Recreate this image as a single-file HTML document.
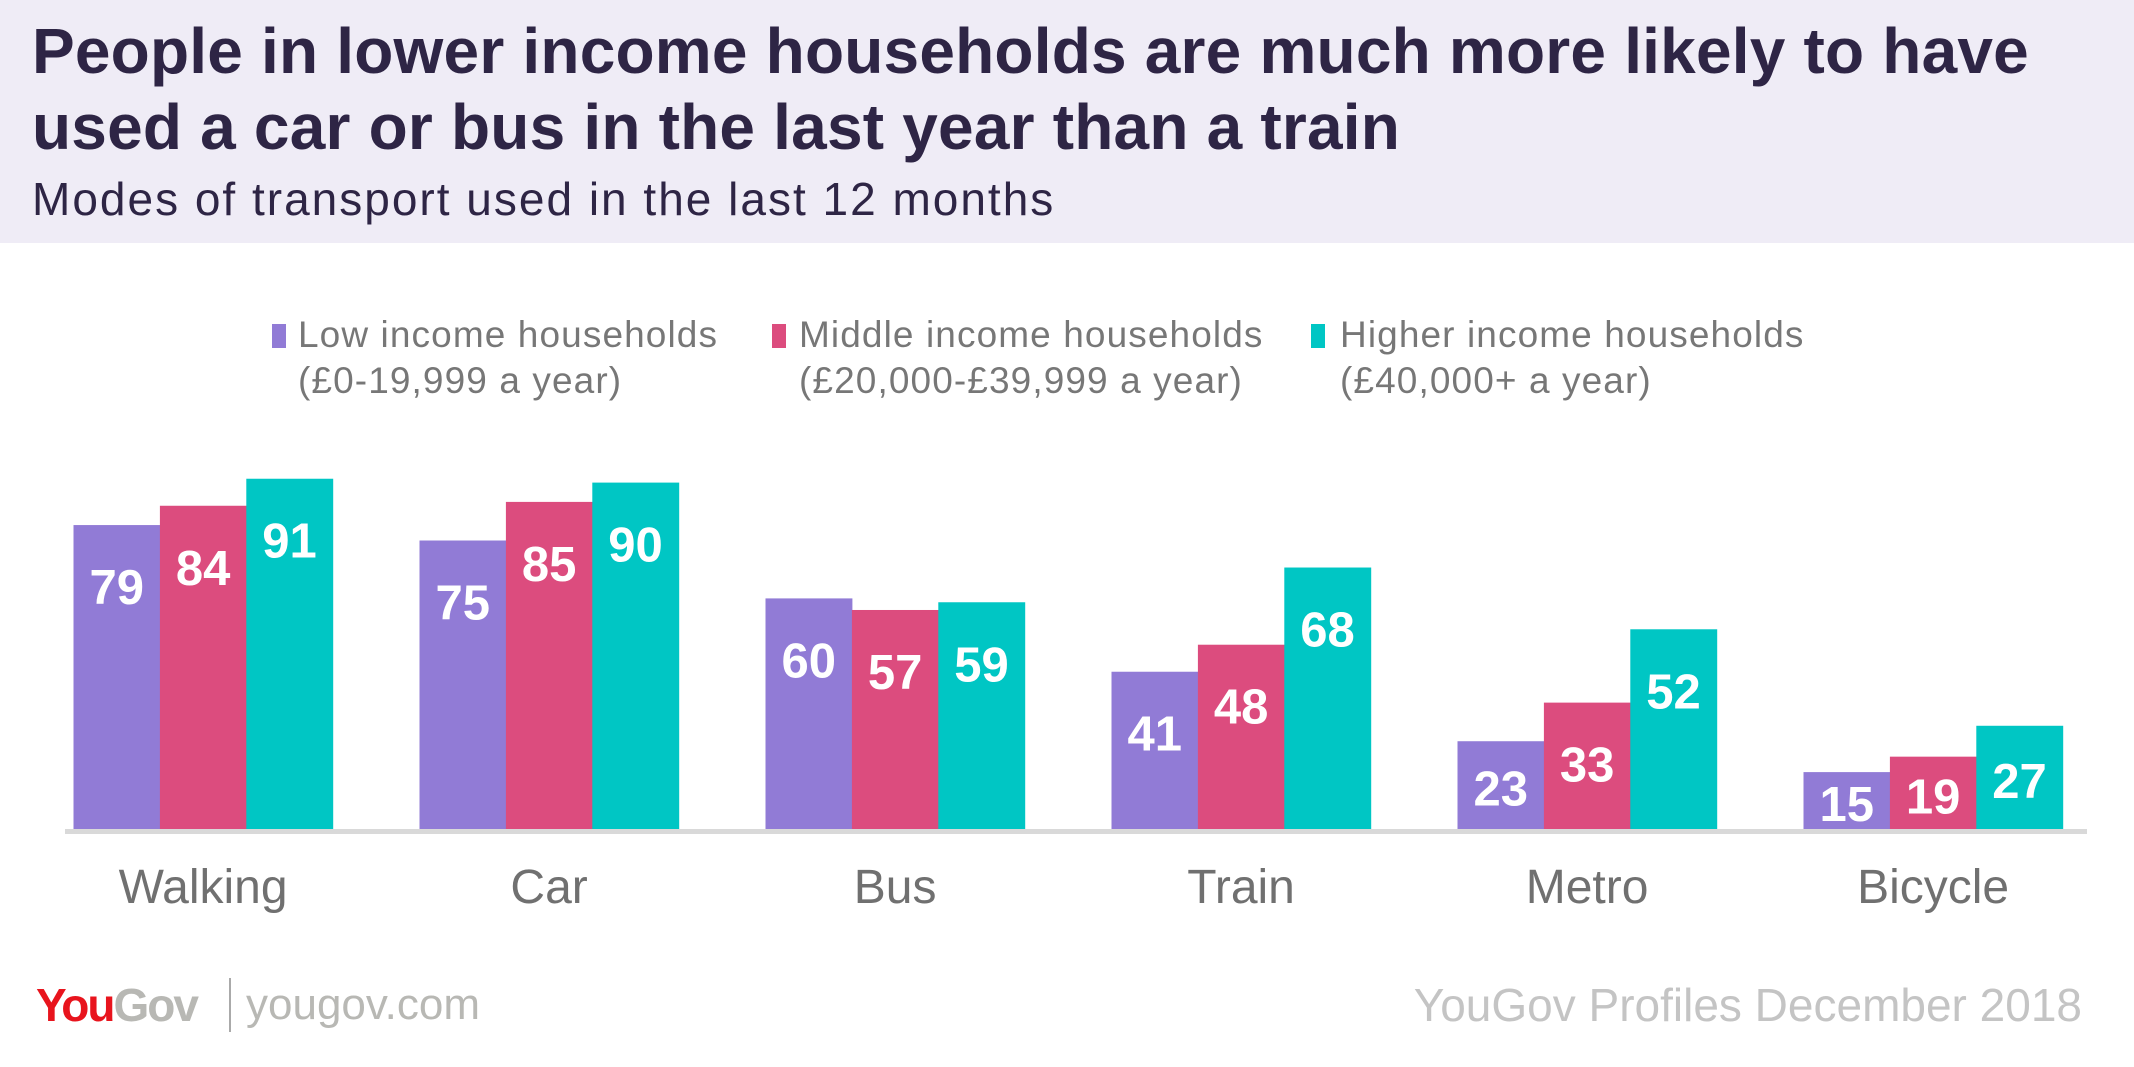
<!DOCTYPE html>
<html><head><meta charset="utf-8"><style>
body{margin:0;width:2134px;height:1067px;background:#fff;font-family:"Liberation Sans",sans-serif;overflow:hidden;position:relative}
.hdr{position:absolute;left:0;top:0;width:2134px;height:243px;background:#efecf6}
.t{position:absolute;left:32px;color:#2e2545;font-weight:bold;font-size:64px;letter-spacing:0.2px;white-space:nowrap}
.leg{position:absolute;font-size:37px;letter-spacing:1.1px;color:#777;line-height:46px;white-space:nowrap}
.sw{position:absolute;width:14px;height:24px}
</style></head><body>
<div class="hdr"></div>
<div class="t" style="top:14px">People in lower income households are much more likely to have</div>
<div class="t" style="top:90px">used a car or bus in the last year than a train</div>
<div style="position:absolute;left:32px;top:172px;font-size:46px;letter-spacing:2px;color:#2e2545">Modes of transport used in the last 12 months</div>

<div class="sw" style="left:272px;top:324px;background:#917bd6"></div>
<div class="leg" style="left:298px;top:312px">Low income households<br>(£0-19,999 a year)</div>
<div class="sw" style="left:772px;top:324px;background:#dc4c7e"></div>
<div class="leg" style="left:799px;top:312px">Middle income households<br>(£20,000-£39,999 a year)</div>
<div class="sw" style="left:1311px;top:324px;background:#00c6c4"></div>
<div class="leg" style="left:1340px;top:312px">Higher income households<br>(£40,000+ a year)</div>

<svg id="chart" width="2134" height="1067" style="position:absolute;left:0;top:0"></svg>

<div style="position:absolute;left:36px;top:978px;font-size:46px;font-weight:bold;letter-spacing:-2px"><span style="color:#e8141d">You</span><span style="color:#b8b8b4">Gov</span></div>
<div style="position:absolute;left:229px;top:978px;width:2px;height:54px;background:#aaa"></div>
<div style="position:absolute;left:246px;top:980px;font-size:44px;color:#b8b8b4">yougov.com</div>
<div style="position:absolute;right:52px;top:978px;font-size:46px;color:#c4c4c4">YouGov Profiles December 2018</div>

<script>
const categories=["Walking","Car","Bus","Train","Metro","Bicycle"];
const lowIncome=[79,75,60,41,23,15];
const middleIncome=[84,85,57,48,33,19];
const higherIncome=[91,90,59,68,52,27];
const seriesNames=["low","middle","higher"];
const colors=["#917bd6","#dc4c7e","#00c6c4"];
const svg=document.getElementById('chart');
const NS="http://www.w3.org/2000/svg";
const base=830, unit=3.86, groupStart=73.5, groupStep=346, barW=86.4;
function y(v){return base-v*unit;}
function x(i,s){return groupStart+i*groupStep+s*barW;}
function mk(t,a){const e=document.createElementNS(NS,t);for(const k in a)e.setAttribute(k,a[k]);svg.appendChild(e);return e;}
const series=[lowIncome,middleIncome,higherIncome];
series.forEach((vals,s)=>{vals.forEach((v,i)=>{
 const r=mk('rect',{x:x(i,s),y:y(v),width:barW+0.5,height:v*unit,fill:colors[s]});
 
 
 const cy=Math.min(y(v)+62,(y(v)+base)/2+3);
 const t=mk('text',{x:x(i,s)+barW/2,y:cy+17,'text-anchor':'middle','font-size':49,'font-weight':'bold',fill:'#fff','font-family':'Liberation Sans, sans-serif'});
 t.textContent=v;
 
 
});});
const ax=mk('rect',{x:65,y:829,width:2022,height:5,fill:'#d9d9d9'});


categories.forEach((c,i)=>{
 const t=mk('text',{x:x(i,1.5),y:903,'text-anchor':'middle','font-size':48,fill:'#707070','font-family':'Liberation Sans, sans-serif'});
 t.textContent=c;
 
 
});
</script>
</body></html>
